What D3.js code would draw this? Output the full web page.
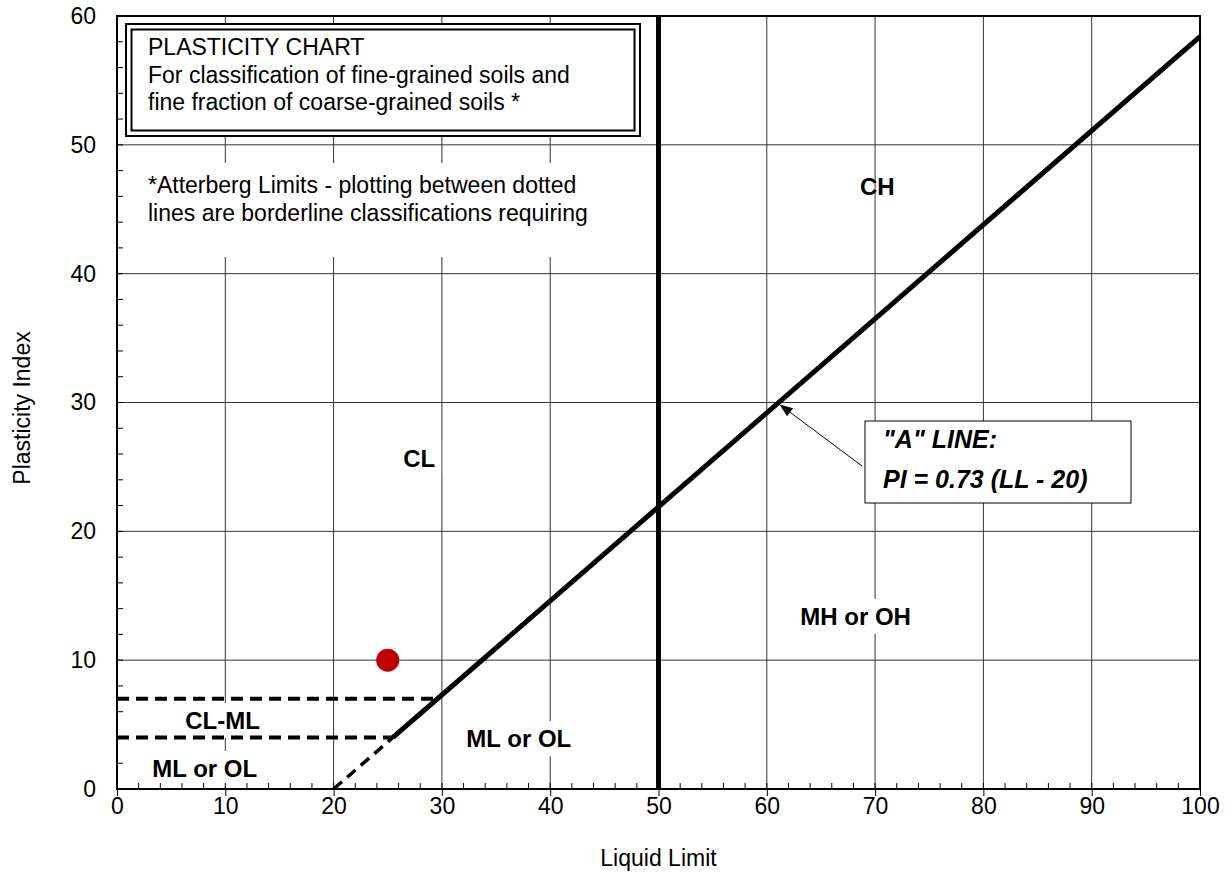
<!DOCTYPE html>
<html>
<head>
<meta charset="utf-8">
<script src="https://cdn.jsdelivr.net/npm/d3@7"></script>
<style>
  html, body { margin: 0; padding: 0; background: #fff; }
  svg { display: block; font-family: Arial, "Liberation Sans", sans-serif; }
</style>
</head>
<body>
<svg id="chart" width="1227" height="875"></svg>
<script>
// ---------- data ----------
const xTicks = [0, 10, 20, 30, 40, 50, 60, 70, 80, 90, 100];
const yTicks = [0, 10, 20, 30, 40, 50, 60];
const xMinor = d3.range(0, 101, 2);
const yMinor = d3.range(0, 61, 2);
const xGrid = [10, 20, 30, 40, 60, 70, 80, 90];
const yGrid = [10, 20, 30, 40, 50];
const aLineSolid = [[25.48, 4], [100, 58.4]];      // PI = 0.73 (LL - 20)
const aLineDashed = [[20, 0], [25.48, 4]];
const llBoundary = [[50, 0], [50, 60]];
const borderline7 = [[0, 7], [29.6, 7]];
const borderline4 = [[0, 4], [25.48, 4]];
const samples = [[25, 10]];
const zoneLabels = [
  { text: "CH", ll: 70.2, pi: 46.8, box: false },
  { text: "CL", ll: 27.9, pi: 25.65, box: true },
  { text: "MH or OH", ll: 68.2, pi: 13.4, box: true },
  { text: "ML or OL", ll: 37.1, pi: 3.9, box: true },
  { text: "CL-ML", ll: 9.75, pi: 5.32, box: true },
  { text: "ML or OL", ll: 8.1, pi: 1.6, box: true }
];
const titleLines = ["PLASTICITY CHART",
  "For classification of fine-grained soils and",
  "fine fraction of coarse-grained soils *"];
const noteLines = ["*Atterberg Limits - plotting between dotted",
  "lines are borderline classifications requiring"];
const aLineText = ["\"A\" LINE:", "PI = 0.73 (LL - 20)"];
const arrowTip = [61, 29.93];

// ---------- layout ----------
const svg = d3.select("#chart");
const L = 117, R = 1200, T = 16, B = 789;
const x = d3.scaleLinear().domain([0, 100]).range([L, R]);
const y = d3.scaleLinear().domain([0, 60]).range([B, T]);
const FONT = "Arial, 'Liberation Sans', sans-serif";

// gridlines
const g = svg.append("g");
g.selectAll(".vg").data(xGrid).enter().append("line")
  .attr("x1", d => x(d)).attr("x2", d => x(d)).attr("y1", T).attr("y2", B)
  .attr("stroke", "#333").attr("stroke-width", 1);
g.selectAll(".hg").data(yGrid).enter().append("line")
  .attr("x1", L).attr("x2", R).attr("y1", d => y(d)).attr("y2", d => y(d))
  .attr("stroke", "#333").attr("stroke-width", 1);

// title box
svg.append("rect").attr("x", 126).attr("y", 24).attr("width", 514).attr("height", 112)
  .attr("fill", "#fff").attr("stroke", "#000").attr("stroke-width", 2);
svg.append("rect").attr("x", 131.5).attr("y", 29.5).attr("width", 503).attr("height", 101)
  .attr("fill", "none").attr("stroke", "#000").attr("stroke-width", 2);
svg.append("g").selectAll("text").data(titleLines).enter().append("text")
  .attr("x", 148).attr("y", (d, i) => 55 + i * 27.5)
  .attr("font-size", 23).attr("fill", "#000").text(d => d);

// note area (white background)
svg.append("rect").attr("x", L + 2).attr("y", 163).attr("width", 520).attr("height", 94).attr("fill", "#fff");
svg.append("g").selectAll("text").data(noteLines).enter().append("text")
  .attr("x", 148).attr("y", (d, i) => 193 + i * 27.5)
  .attr("font-size", 23).attr("fill", "#000").text(d => d);

// label white boxes + labels
const labG = svg.append("g");
zoneLabels.forEach(d => {
  const t = labG.append("text")
    .attr("x", x(d.ll)).attr("y", y(d.pi))
    .attr("text-anchor", "middle").attr("dominant-baseline", "central")
    .attr("font-size", 24).attr("font-weight", "bold").attr("fill", "#000")
    .text(d.text);
  if (d.box) {
    const bb = t.node().getBBox();
    labG.insert("rect", "text")
      .attr("x", bb.x - 6).attr("y", bb.y - 4)
      .attr("width", bb.width + 12).attr("height", bb.height + 8)
      .attr("fill", "#fff");
  }
});

const line = d3.line().x(d => x(d[0])).y(d => y(d[1]));

// dashed borderline lines
[borderline7, borderline4].forEach(pts => {
  svg.append("path").attr("d", line(pts)).attr("fill", "none")
    .attr("stroke", "#000").attr("stroke-width", 4).attr("stroke-dasharray", "12,7");
});
svg.append("path").attr("d", line(aLineDashed)).attr("fill", "none")
  .attr("stroke", "#000").attr("stroke-width", 3.5).attr("stroke-dasharray", "11,7");

// A-line and LL = 50
svg.append("path").attr("d", line(aLineSolid)).attr("fill", "none")
  .attr("stroke", "#000").attr("stroke-width", 5).attr("stroke-linecap", "butt");
svg.append("path").attr("d", line(llBoundary)).attr("fill", "none")
  .attr("stroke", "#000").attr("stroke-width", 5);

// sample point
svg.selectAll(".pt").data(samples).enter().append("circle")
  .attr("cx", d => x(d[0])).attr("cy", d => y(d[1])).attr("r", 11.5)
  .attr("fill", "#c00000");

// A-line annotation box
svg.append("rect").attr("x", 865).attr("y", 421).attr("width", 266).attr("height", 82)
  .attr("fill", "#fff").attr("stroke", "#000").attr("stroke-width", 1);
svg.append("g").selectAll("text").data(aLineText).enter().append("text")
  .attr("x", 883).attr("y", (d, i) => 448 + i * 40)
  .attr("font-size", 25).attr("font-weight", "bold").attr("font-style", "italic")
  .attr("fill", "#000").text(d => d);
// arrow
const tipX = x(arrowTip[0]) + 2, tipY = y(arrowTip[1]) + 1;
const sx = 862, sy = 466;
const ang = Math.atan2(tipY - sy, tipX - sx);
svg.append("line").attr("x1", sx).attr("y1", sy)
  .attr("x2", tipX - 10 * Math.cos(ang)).attr("y2", tipY - 10 * Math.sin(ang))
  .attr("stroke", "#000").attr("stroke-width", 1);
const ah = 13, aw = 5;
const bx = tipX - ah * Math.cos(ang), by = tipY - ah * Math.sin(ang);
svg.append("path")
  .attr("d", `M${tipX},${tipY}L${bx + aw * Math.sin(ang)},${by - aw * Math.cos(ang)}L${bx - aw * Math.sin(ang)},${by + aw * Math.cos(ang)}Z`)
  .attr("fill", "#000");

// plot border
svg.append("rect").attr("x", L).attr("y", T).attr("width", R - L).attr("height", B - T)
  .attr("fill", "none").attr("stroke", "#000").attr("stroke-width", 2);

// minor ticks (inside)
svg.append("g").selectAll("line").data(xMinor).enter().append("line")
  .attr("x1", d => x(d)).attr("x2", d => x(d)).attr("y1", B).attr("y2", B - 6)
  .attr("stroke", "#000").attr("stroke-width", 1);
svg.append("g").selectAll("line").data(yMinor).enter().append("line")
  .attr("x1", L).attr("x2", L + 6).attr("y1", d => y(d)).attr("y2", d => y(d))
  .attr("stroke", "#000").attr("stroke-width", 1);

// axes
const xAxis = svg.append("g").attr("transform", `translate(0,${B})`)
  .call(d3.axisBottom(x).tickValues(xTicks).tickSize(7).tickPadding(2).tickFormat(d3.format("d")));
const yAxis = svg.append("g").attr("transform", `translate(${L},0)`)
  .call(d3.axisLeft(y).tickValues(yTicks).tickSize(0).tickPadding(21).tickFormat(d3.format("d")));
[xAxis, yAxis].forEach(a => {
  a.select(".domain").remove();
  a.selectAll("text").attr("font-size", 23).attr("font-family", FONT).attr("fill", "#000");
  a.selectAll("line").attr("stroke", "#000").attr("stroke-width", 1);
});

// axis titles
svg.append("text").attr("x", (L + R) / 2).attr("y", 866).attr("text-anchor", "middle")
  .attr("font-size", 23).attr("fill", "#000").text("Liquid Limit");
svg.append("text").attr("transform", `translate(30,408) rotate(-90)`)
  .attr("text-anchor", "middle").attr("font-size", 23).attr("fill", "#000").text("Plasticity Index");
</script>
</body>
</html>
